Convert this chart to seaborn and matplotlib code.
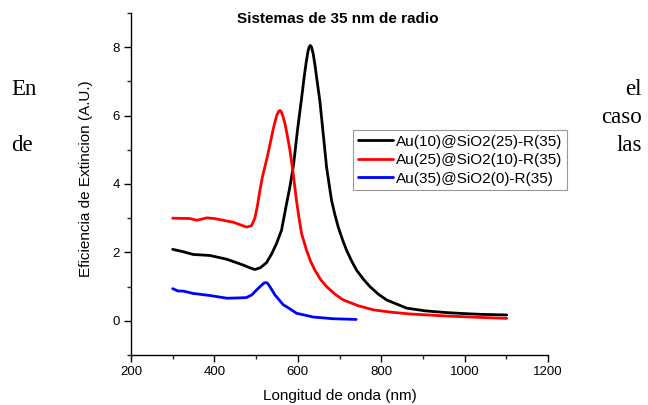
import matplotlib
matplotlib.use("Agg")
import matplotlib.pyplot as plt
import seaborn as sns
import pandas as pd
from matplotlib.ticker import MultipleLocator
from matplotlib.lines import Line2D

# ---- data ----
labels = ["Au(10)@SiO2(25)-R(35)", "Au(25)@SiO2(10)-R(35)", "Au(35)@SiO2(0)-R(35)"]
colors = ["#000000", "#ff0000", "#0000ff"]

black_x = [300, 325, 349, 389, 430, 469, 485, 497, 510, 525, 537, 549, 561, 573, 580, 585,
           590, 599, 609, 615, 620, 624, 627, 630, 633, 637, 641, 647, 653, 661, 669, 675, 681, 689, 697,
           707, 717, 729, 741, 757, 773, 793, 813, 837, 861, 906, 957, 1000, 1037, 1101]
black_y = [2.09, 2.02, 1.94, 1.91, 1.80, 1.63, 1.55, 1.50, 1.55, 1.70, 1.95, 2.26, 2.65, 3.42, 3.85, 4.2,
           4.58, 5.55, 6.5, 7.1, 7.55, 7.85, 8.0, 8.05, 8.0, 7.8, 7.49, 6.95, 6.42, 5.46, 4.49, 4.0, 3.52, 3.1, 2.74,
           2.38, 2.06, 1.75, 1.48, 1.22, 1.0, 0.78, 0.61, 0.49, 0.37, 0.29, 0.24, 0.21, 0.19, 0.17]

red_x = [300, 341, 358, 382, 400, 446, 477, 489, 497, 503, 509, 515, 521, 527, 534, 541, 546, 550, 554, 557,
         560, 564, 568, 572, 581, 589, 597, 603, 609, 621, 631, 641, 655, 669, 689, 709, 745, 781, 825, 869,
         957, 1037, 1101]
red_y = [3.0, 2.99, 2.94, 3.01, 2.99, 2.88, 2.74, 2.78, 3.0, 3.35, 3.8, 4.2, 4.5, 4.8, 5.2, 5.6, 5.85, 6.02, 6.12, 6.15,
         6.12, 6.0, 5.82, 5.6, 5.0, 4.3, 3.5, 3.0, 2.55, 2.06, 1.73, 1.48, 1.2, 1.0, 0.78, 0.61, 0.44, 0.32, 0.25, 0.20,
         0.14, 0.10, 0.07]

blue_x = [300, 313, 325, 349, 389, 430, 461, 477, 490, 501, 512, 520, 524, 528, 533, 545, 565, 581, 597, 637, 685, 740]
blue_y = [0.94, 0.87, 0.87, 0.80, 0.74, 0.66, 0.67, 0.68, 0.76, 0.90, 1.03, 1.11, 1.12, 1.09, 1.0, 0.76, 0.47, 0.35, 0.22, 0.11, 0.06, 0.04]

title = "Sistemas de 35 nm de radio"
xlabel = "Longitud de onda (nm)"
ylabel = "Eficiencia de Extincion (A.U.)"
xticks = [200, 400, 600, 800, 1000, 1200]
yticks = [0, 2, 4, 6, 8]

df = pd.concat([
    pd.DataFrame({"x": black_x, "y": black_y, "s": labels[0]}),
    pd.DataFrame({"x": red_x, "y": red_y, "s": labels[1]}),
    pd.DataFrame({"x": blue_x, "y": blue_y, "s": labels[2]}),
], ignore_index=True)

sns.set_theme(style="ticks")
plt.rcParams["font.family"] = ["Liberation Sans", "DejaVu Sans"]
plt.rcParams["text.color"] = "black"

W, H = 648, 405
fig = plt.figure(figsize=(W / 100, H / 100), dpi=100)
ax = fig.add_axes([131 / W, 1 - 355 / H, (548 - 131) / W, (355 - 13) / H])

sns.lineplot(data=df, x="x", y="y", hue="s", palette=dict(zip(labels, colors)),
             hue_order=labels, sort=False, estimator=None, linewidth=2.0, ax=ax, legend=False)
for ln in ax.get_lines():
    ln.set_solid_joinstyle("round")

ax.set_xlim(200, 1200)
ax.set_ylim(-1, 9)
ax.set_xticks(xticks)
ax.set_yticks(yticks)
ax.xaxis.set_minor_locator(MultipleLocator(100))
ax.yaxis.set_minor_locator(MultipleLocator(1))
ax.tick_params(which="major", direction="out", length=5, width=1, labelsize=9.5, colors="black", pad=3)
ax.tick_params(which="minor", direction="out", length=3, width=1)
for s in ["top", "right"]:
    ax.spines[s].set_visible(False)
for s in ["left", "bottom"]:
    ax.spines[s].set_color("black")
    ax.spines[s].set_linewidth(1)
ax.set_xlabel("")
ax.set_ylabel("")

fig.text(338 / W, 1 - 19 / H, title, ha="center", va="center", fontsize=11, fontweight="bold", color="black")
fig.text(339.5 / W, 1 - 396 / H, xlabel, ha="center", va="center", fontsize=11, color="black")
fig.text(86 / W, 1 - 179 / H, ylabel, ha="center", va="center", fontsize=11, rotation=90, color="black")

handles = [Line2D([], [], color=c, lw=2.0) for c in colors]
leg = fig.legend(handles, labels, loc="upper left", bbox_to_anchor=(353 / W, 1 - 130 / H),
                 bbox_transform=fig.transFigure, frameon=True, fancybox=False, fontsize=11,
                 handlelength=2.3, handletextpad=0.2, borderpad=0.3, labelspacing=0.3,
                 borderaxespad=0)
leg.get_frame().set_edgecolor("#808080")
leg.get_frame().set_linewidth(0.8)
for t in leg.get_texts():
    t.set_color("black")

serif = ["Liberation Serif", "DejaVu Serif"]
fs = 16.5
fig.text(11 / W, 1 - 95 / H, "En", ha="left", va="baseline", fontsize=fs, family=serif)
fig.text(11 / W, 1 - 151.5 / H, "de", ha="left", va="baseline", fontsize=fs, family=serif)
fig.text(642 / W, 1 - 95 / H, "el", ha="right", va="baseline", fontsize=fs, family=serif)
fig.text(642 / W, 1 - 123.3 / H, "caso", ha="right", va="baseline", fontsize=fs, family=serif)
fig.text(642 / W, 1 - 151.5 / H, "las", ha="right", va="baseline", fontsize=fs, family=serif)

fig.savefig("out.png", dpi=100, facecolor="white")
